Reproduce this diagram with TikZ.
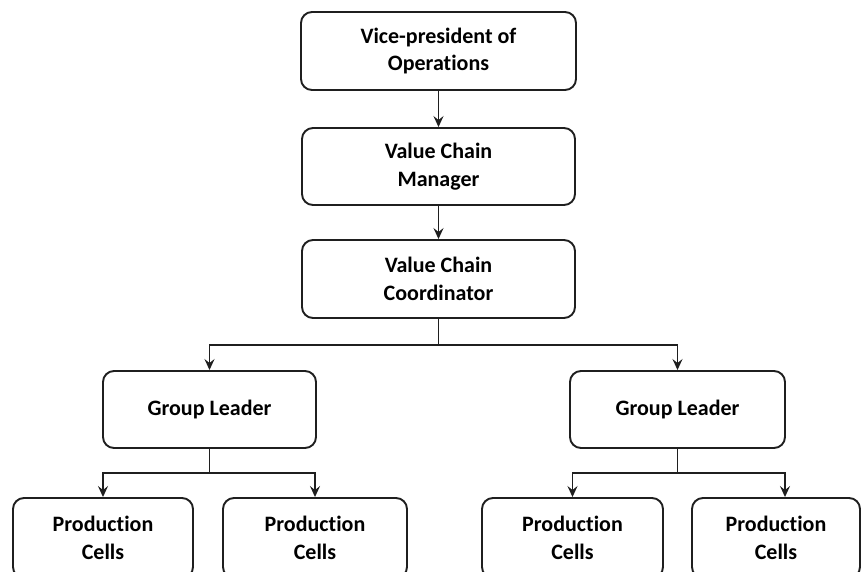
\documentclass[tikz,border=0pt]{standalone}
\usepackage{fontspec}
\setmainfont[Ligatures={NoCommon}]{Carlito}
\usetikzlibrary{arrows.meta}
\begin{document}
\begin{tikzpicture}[x=1pt,y=-1pt,
  box/.style={draw=black!88, line width=1.9pt, rounded corners=11pt,
    align=center, inner sep=0pt, font=\fontsize{22}{27.5}\selectfont\bfseries},
  link/.style={draw=black!88, line width=1.9pt,
    -{Stealth[length=11pt,width=10pt,inset=4pt]}},
  wire/.style={draw=black!88, line width=1.9pt}]
\useasboundingbox (0,0) rectangle (863,571);
\clip (0,0) rectangle (863,571);

% management chain
\node[box, minimum width=275pt, minimum height=78pt] (vp)  at (438.5,51)  {Vice-president of\\Operations};
\node[box, minimum width=273pt, minimum height=77pt] (vcm) at (438.5,166.5) {Value Chain\\Manager};
\node[box, minimum width=273pt, minimum height=78pt] (vcc) at (438.5,279) {Value Chain\\Coordinator};

% group leaders
\node[box, minimum width=213pt, minimum height=77pt] (gl1) at (209.5,409.5) {Group Leader};
\node[box, minimum width=215pt, minimum height=77pt] (gl2) at (677.5,409.5) {Group Leader};

% production cells (run past the lower edge)
\node[box, minimum width=180pt, minimum height=80pt] (pc1) at (103,538) {Production\\Cells};
\node[box, minimum width=184pt, minimum height=80pt] (pc2) at (315,538) {Production\\Cells};
\node[box, minimum width=181pt, minimum height=80pt] (pc3) at (572.5,538) {Production\\Cells};
\node[box, minimum width=168pt, minimum height=80pt] (pc4) at (776,538) {Production\\Cells};

\draw[link] (vp.south) -- (vcm.north);
\draw[link] (vcm.south) -- (vcc.north);

\coordinate (split) at (vcc.south |- 0,345);
\draw[wire] (vcc.south) -- (split);
\draw[link] (split) -| (gl1.north);
\draw[link] (split) -| (gl2.north);

\coordinate (s1) at (gl1.south |- 0,473);
\draw[wire] (gl1.south) -- (s1);
\draw[link] (s1) -| (pc1.north);
\draw[link] (s1) -| (pc2.north);

\coordinate (s2) at (gl2.south |- 0,473);
\draw[wire] (gl2.south) -- (s2);
\draw[link] (s2) -| (pc3.north);
\draw[link] (s2) -| ([xshift=9pt]pc4.north);
\end{tikzpicture}
\end{document}
